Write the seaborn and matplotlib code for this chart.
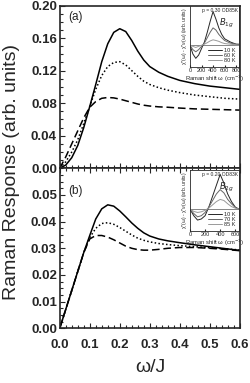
import numpy as np
import pandas as pd
import matplotlib
matplotlib.use("Agg")
import matplotlib.pyplot as plt
from matplotlib.ticker import MultipleLocator, FixedLocator
import seaborn as sns

# ---------------- data ----------------
omega = [0.00, 0.02, 0.04, 0.06, 0.08, 0.10, 0.12, 0.14, 0.16, 0.18, 0.20, 0.22,
         0.24, 0.26, 0.28, 0.30, 0.33, 0.36, 0.40, 0.45, 0.50, 0.55, 0.60]

a_solid = [0.0, 0.004, 0.013, 0.028, 0.050, 0.076, 0.103, 0.131, 0.153, 0.167, 0.1715, 0.168,
           0.157, 0.144, 0.133, 0.125, 0.118, 0.113, 0.108, 0.104, 0.101, 0.099, 0.097]
a_dotted = [0.0, 0.008, 0.020, 0.035, 0.055, 0.076, 0.097, 0.114, 0.125, 0.130, 0.131, 0.127,
            0.120, 0.113, 0.107, 0.103, 0.099, 0.096, 0.093, 0.090, 0.088, 0.086, 0.085]
a_dashed = [0.0, 0.014, 0.030, 0.046, 0.062, 0.075, 0.082, 0.086, 0.087, 0.0865, 0.085, 0.083,
            0.081, 0.079, 0.0775, 0.0765, 0.0755, 0.075, 0.074, 0.073, 0.0725, 0.072, 0.0715]

b_solid = [0.0, 0.0071, 0.0142, 0.0213, 0.0284, 0.0348, 0.0410, 0.0448, 0.0463, 0.0458, 0.0440, 0.0418,
           0.0395, 0.0375, 0.0358, 0.0346, 0.0335, 0.0328, 0.0321, 0.0313, 0.0306, 0.0299, 0.0292]
b_dotted = [0.0, 0.0071, 0.0142, 0.0213, 0.0284, 0.0340, 0.0375, 0.0393, 0.0396, 0.0390, 0.0378, 0.0364,
            0.0350, 0.0338, 0.0330, 0.0324, 0.0318, 0.0314, 0.0310, 0.0306, 0.0302, 0.0298, 0.0294]
b_dashed = [0.0, 0.0071, 0.0142, 0.0213, 0.0284, 0.0335, 0.0348, 0.0348, 0.0342, 0.0332, 0.0320, 0.0308,
            0.0300, 0.0295, 0.0293, 0.0293, 0.0296, 0.0300, 0.0303, 0.0303, 0.0300, 0.0296, 0.0291]

a_yticks = [0.00, 0.04, 0.08, 0.12, 0.16, 0.20]
b_yticks = [0.00, 0.01, 0.02, 0.03, 0.04, 0.05]
x_ticks = [0.0, 0.1, 0.2, 0.3, 0.4, 0.5, 0.6]

# inset spectra (Raman shift in cm^-1, arbitrary units)
shift_a = [0, 50, 100, 150, 200, 250, 300, 350, 400, 450, 500, 550, 600, 700, 800, 850]
ins_a_10 = [0.0, -0.4, -0.6, -0.45, -0.15, 0.15, 0.6, 1.1, 1.55, 1.2, 0.8, 0.5, 0.3, 0.15, 0.05, 0.05]
ins_a_60 = [0.0, -0.2, -0.3, -0.2, -0.05, 0.1, 0.35, 0.6, 0.8, 0.7, 0.5, 0.35, 0.22, 0.1, 0.05, 0.03]
ins_a_80 = [0.0, -0.05, -0.1, -0.05, 0.0, 0.05, 0.12, 0.2, 0.25, 0.22, 0.18, 0.12, 0.08, 0.05, 0.02, 0.0]

shift_b = [0, 50, 100, 150, 200, 250, 300, 350, 400, 450, 500, 550, 600, 650]
ins_b_10 = [0.0, -0.3, -0.5, -0.45, -0.3, 0.1, 0.6, 1.1, 1.6, 1.2, 0.7, 0.35, 0.1, 0.0]
ins_b_70 = [0.0, -0.2, -0.35, -0.3, -0.15, 0.1, 0.4, 0.7, 0.9, 0.75, 0.45, 0.25, 0.08, 0.0]
ins_b_85 = [0.0, -0.1, -0.15, -0.12, -0.05, 0.05, 0.2, 0.35, 0.45, 0.4, 0.25, 0.12, 0.05, 0.0]

curve_names = ["solid", "dotted", "dashed"]
dash_map = {"solid": "", "dotted": (1, 1.5), "dashed": (5, 2.5)}


def long_frame(x, series):
    frames = []
    for name, vals in zip(curve_names, series):
        frames.append(pd.DataFrame({"omega": x, "resp": vals, "curve": name}))
    return pd.concat(frames, ignore_index=True)


df_a = long_frame(omega, [a_solid, a_dotted, a_dashed])
df_b = long_frame(omega, [b_solid, b_dotted, b_dashed])

# ---------------- styling ----------------
sns.set_style("ticks")
plt.rcParams["font.family"] = ["Liberation Sans", "DejaVu Sans"]
plt.rcParams["axes.linewidth"] = 1.2

fig = plt.figure(figsize=(2.5, 3.83), dpi=100)
ax_a = fig.add_axes([0.239, 0.5606, 0.72, 0.4250])
ax_b = fig.add_axes([0.239, 0.1428, 0.72, 0.4178])

for ax, df, ymax, yt, ymin in [(ax_a, df_a, 0.20, a_yticks, 0.01),
                               (ax_b, df_b, 0.06, b_yticks, 0.0025)]:
    sns.lineplot(data=df, x="omega", y="resp", style="curve", dashes=dash_map,
                 color="black", linewidth=1.1, legend=False, ax=ax, sort=False)
    ax.set_xlim(0, 0.6)
    ax.set_ylim(0, ymax)
    ax.yaxis.set_major_locator(FixedLocator(yt))
    ax.yaxis.set_minor_locator(MultipleLocator(ymin))
    ax.xaxis.set_major_locator(FixedLocator(x_ticks))
    ax.xaxis.set_minor_locator(MultipleLocator(0.02))
    ax.tick_params(which="both", direction="in", width=0.8)
    ax.tick_params(which="major", length=3.5, labelsize=9.5, pad=2)
    ax.tick_params(which="minor", length=2)
    ax.yaxis.set_major_formatter(plt.FormatStrFormatter("%.2f"))
    ax.xaxis.set_major_formatter(plt.FormatStrFormatter("%.1f"))
    for lab in ax.get_yticklabels() + ax.get_xticklabels():
        lab.set_fontweight("bold")
    ax.set_xlabel("")
    ax.set_ylabel("")

ax_a.tick_params(axis="x", labelbottom=False)
ax_b.tick_params(axis="x", top=True, which="both")
ax_b.tick_params(axis="x", which="major", pad=8)

ax_a.text(0.045, 0.93, "(a)", transform=ax_a.transAxes, fontsize=8.5, va="center")
ax_b.text(0.045, 0.86, "(b)", transform=ax_b.transAxes, fontsize=8.5, va="center")

fig.text(0.045, 0.55, "Raman Response (arb. units)", rotation=90, fontsize=14,
         ha="center", va="center")
fig.text(0.6, 0.04, "ω/J", fontsize=14, ha="center", va="center")

# ---------------- insets ----------------
def draw_inset(rect, shift, series, temps, xmax, xticks, ptext, label):
    ins = fig.add_axes(rect)
    frames = []
    for t, vals in zip(temps, series):
        frames.append(pd.DataFrame({"shift": shift, "chi": vals, "T": t}))
    d = pd.concat(frames, ignore_index=True)
    ins.axhline(0, color="0.45", linewidth=0.6)
    sns.lineplot(data=d, x="shift", y="chi", hue="T",
                 palette=["0.15", "0.4", "0.6"], linewidth=0.7, ax=ins, sort=False)
    ins.set_xlim(0, xmax)
    ins.set_ylim(-1.0, 1.8)
    ins.set_xticks(xticks)
    ins.set_yticks([])
    ins.tick_params(axis="x", direction="in", length=1.5, labelsize=4, pad=1)
    for sp in ins.spines.values():
        sp.set_linewidth(0.6)
    ins.set_xlabel("Raman shift ω (cm$^{-1}$)", fontsize=4.2, labelpad=0.5)
    ins.set_ylabel("χ''(ω) - χ''$_N$(ω) (arb. units)", fontsize=3.6, labelpad=1)
    ins.text(0.98, 0.97, ptext, transform=ins.transAxes, fontsize=3.6,
             ha="right", va="top")
    ins.text(0.75, 0.72, label, transform=ins.transAxes, fontsize=6, ha="center",
             va="center")
    ins.legend(loc="lower right", fontsize=4, frameon=False, handlelength=2.5,
               borderpad=0.2, labelspacing=0.05, handletextpad=0.3)
    return ins


draw_inset([0.76, 0.825, 0.196, 0.159], shift_a, [ins_a_10, ins_a_60, ins_a_80],
           ["10 K", "60 K", "80 K"], 850, [0, 200, 400, 600, 800],
           "p = 0.30 OD85K", "$B_{1g}$")
draw_inset([0.76, 0.397, 0.196, 0.159], shift_b, [ins_b_10, ins_b_70, ins_b_85],
           ["10 K", "70 K", "85 K"], 650, [0, 200, 400, 600],
           "p = 0.20 OD83K", "$B_{2g}$")

fig.savefig("out.png", dpi=100)
